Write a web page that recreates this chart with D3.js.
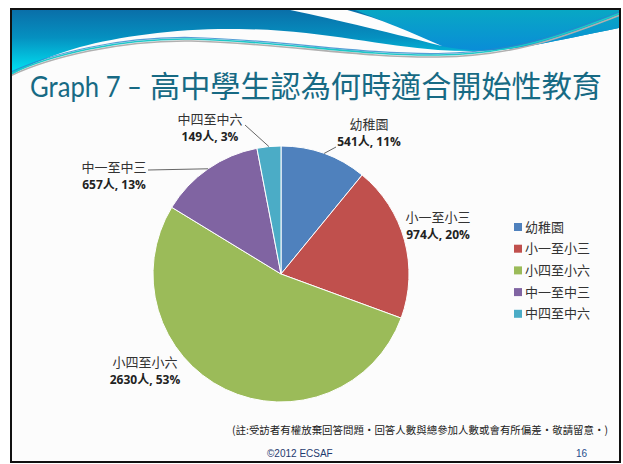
<!DOCTYPE html>
<html><head><meta charset="utf-8">
<script src="https://cdn.jsdelivr.net/npm/d3@7"></script>
<style>
html,body{margin:0;padding:0;background:#fff;}
svg{display:block;}
</style></head>
<body>
<svg id="c" width="623" height="464"></svg>
<script>
const categories = ["幼稚園","小一至小三","小四至小六","中一至中三","中四至中六"];
const counts = [541, 974, 2630, 657, 149];
const percents = [11, 20, 53, 13, 3];
const colors = ["#4F81BD","#C0504D","#9BBB59","#8064A2","#4BACC6"];
const titleLatin = "Graph 7 –";
const titleCJK = "高中學生認為何時適合開始性教育";
const footnote = "(註:受訪者有權放棄回答問題・回答人數與總參加人數或會有所偏差・敬請留意・)";
const footerLeft = "©2012 ECSAF";
const footerRight = "16";

const svg = d3.select("#c");
const defs = svg.append("defs");
const gA = defs.append("linearGradient").attr("id","gA").attr("gradientUnits","userSpaceOnUse")
  .attr("x1",0).attr("y1",9).attr("x2",0).attr("y2",72);
gA.append("stop").attr("offset",0).attr("stop-color","#0a6ea8");
gA.append("stop").attr("offset",0.45).attr("stop-color","#0590c0");
gA.append("stop").attr("offset",1).attr("stop-color","#00e2f2");
const gB = defs.append("linearGradient").attr("id","gB").attr("gradientUnits","userSpaceOnUse")
  .attr("x1",0).attr("y1",9).attr("x2",0).attr("y2",52);
gB.append("stop").attr("offset",0).attr("stop-color","#08a8c4");
gB.append("stop").attr("offset",1).attr("stop-color","#0a8cd8");
defs.append("clipPath").attr("id","clip").append("rect").attr("x",11).attr("y",9).attr("width",609).attr("height",453);

// slide background
svg.append("rect").attr("x",11).attr("y",9).attr("width",609).attr("height",453).attr("fill","#fcfcfc");

const hdr = svg.append("g").attr("clip-path","url(#clip)");
hdr.append("path").attr("fill","url(#gA)")
  .attr("d","M0,0 L623,0 L623,27 C590,34 560,40 540,44 C500,52 470,52 438,50 C380,46 320,30 239,29 C180,28 120,36 80,47 C50,56 30,64 10,76 Z");
hdr.append("path").attr("fill","url(#gB)")
  .attr("d","M331,0 L623,0 L623,27 C590,34 560,40 540,44 C500,52 470,52 440,46 C420,38 400,28 380,20 C360,12 345,6 331,0 Z");
hdr.append("path").attr("fill","#fdfdfd")
  .attr("d","M280,8 C320,16 380,30 442,46 C410,32 380,18 340,8 Z");
const wave = "M10,74 C50,55 120,38 191,39 C280,41 360,56 438,55 C520,54 570,32 623,12";
hdr.append("path").attr("d",wave).attr("transform","translate(0,2)").attr("fill","none").attr("stroke","#b0b0b0").attr("stroke-width",1.6);
hdr.append("path").attr("d",wave).attr("fill","none").attr("stroke","#1ec8c8").attr("stroke-width",1.6);
hdr.append("path").attr("d",wave).attr("transform","translate(0,-1.5)").attr("fill","none").attr("stroke","#2a86cc").attr("stroke-width",1.2).attr("opacity",0.8);

// frame
svg.append("rect").attr("x",11).attr("y",9).attr("width",609).attr("height",453)
  .attr("fill","none").attr("stroke","#111").attr("stroke-width",2);

// title
svg.append("text").attr("x",30).attr("y",97).attr("font-family","Lato, 'Open Sans', sans-serif")
  .attr("font-size",29).attr("fill","#176a84").attr("textLength",112).attr("lengthAdjust","spacingAndGlyphs").text(titleLatin);
svg.append("text").attr("x",150).attr("y",97).attr("font-family","'Noto Sans CJK TC', sans-serif")
  .attr("font-size",30).attr("fill","#176a84").attr("textLength",452).attr("lengthAdjust","spacingAndGlyphs").text(titleCJK);

// pie
const cx = 281, cy = 274, r = 128;
const data = categories.map((c,i)=>({cat:c, value:counts[i], pct:percents[i], color:colors[i]}));
const pie = d3.pie().sort(null).value(d=>d.value);
const arcs = pie(data);
const arc = d3.arc().innerRadius(0).outerRadius(r);
const edge = d3.arc().innerRadius(r).outerRadius(r);
const pg = svg.append("g").attr("transform",`translate(${cx},${cy})`);
pg.selectAll("path").data(arcs).join("path").attr("d",arc).attr("fill",d=>d.data.color)
  .attr("stroke","#fff").attr("stroke-width",1);

// labels (layout)
const labelLayout = [
  {x:369, y:129, leader:[336,147]},
  {x:438, y:222, leader:null},
  {x:145, y:367, leader:null},
  {x:114, y:172, leader:[148,170]},
  {x:210, y:124, leader:[245,125]}
];
arcs.forEach((a,i)=>{
  const L = labelLayout[i];
  if (L.leader){
    const p = edge.centroid(a);
    svg.append("line").attr("x1",cx+p[0]).attr("y1",cy+p[1]).attr("x2",L.leader[0]).attr("y2",L.leader[1])
      .attr("stroke","#555").attr("stroke-width",0.9);
  }
  svg.append("text").attr("x",L.x).attr("y",L.y).attr("text-anchor","middle")
    .attr("font-family","'Noto Sans CJK TC', sans-serif").attr("font-size",13).attr("fill","#333")
    .text(a.data.cat);
  svg.append("text").attr("x",L.x).attr("y",L.y+17).attr("text-anchor","middle")
    .attr("font-family","'Open Sans', 'Noto Sans CJK TC', sans-serif").attr("font-size",12).attr("font-weight","bold").attr("fill","#222")
    .text(`${a.data.value}人, ${a.data.pct}%`);
});

// legend
const lg = svg.append("g");
categories.forEach((c,i)=>{
  const y = 227 + i*21.7;
  lg.append("rect").attr("x",514).attr("y",y-4).attr("width",8).attr("height",8).attr("fill",colors[i]);
  lg.append("text").attr("x",525).attr("y",y+4.5).attr("font-family","'Noto Sans CJK TC', sans-serif")
    .attr("font-size",13).attr("fill","#333").text(c);
});

// footer
svg.append("text").attr("x",232).attr("y",434).attr("font-family","'Noto Sans CJK TC', sans-serif")
  .attr("font-size",10.5).attr("fill","#222").attr("textLength",376).attr("lengthAdjust","spacingAndGlyphs").text(footnote);
svg.append("text").attr("x",267).attr("y",457).attr("font-family","'Liberation Sans', Arial, sans-serif")
  .attr("font-size",10).attr("fill","#1f3a6e").text(footerLeft);
svg.append("text").attr("x",576).attr("y",457).attr("font-family","'Liberation Sans', Arial, sans-serif")
  .attr("font-size",10).attr("fill","#1f4e8c").text(footerRight);
</script>
</body></html>
